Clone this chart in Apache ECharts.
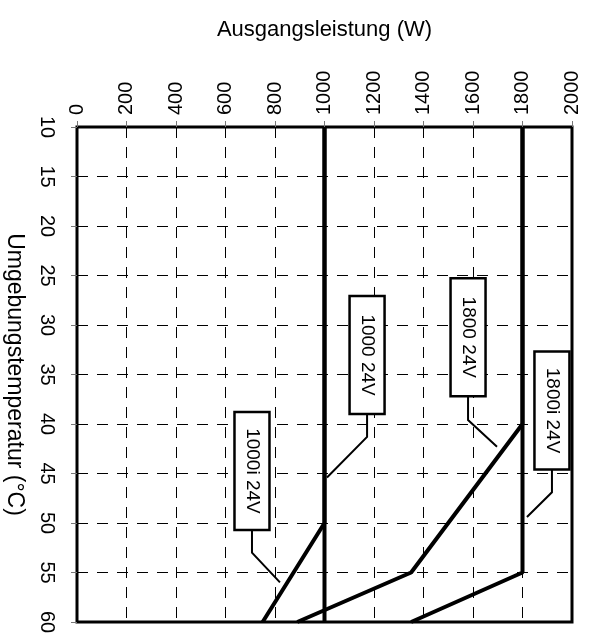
<!DOCTYPE html>
<html>
<head>
<meta charset="utf-8">
<script src="https://cdn.jsdelivr.net/npm/echarts@6/dist/echarts.min.js"></script>
<style>
  html, body { margin: 0; padding: 0; background: #fff; }
  #chart { width: 590px; height: 633px; }
</style>
</head>
<body>
<div id="chart"></div>
<script>
// Derating curves: output power (W) against ambient temperature (°C)
const powerTicks = [0, 200, 400, 600, 800, 1000, 1200, 1400, 1600, 1800, 2000];
const tempTicks = [10, 15, 20, 25, 30, 35, 40, 45, 50, 55, 60];

const temp1000 = [10, 60];
const power1000 = [1000, 1000];
const temp1000i = [10, 50, 60];
const power1000i = [1000, 1000, 750];
const temp1800 = [10, 40, 55, 60];
const power1800 = [1800, 1800, 1350, 890];
const temp1800i = [10, 55, 60];
const power1800i = [1800, 1800, 1350];

// Callout labels: name, point on the curve, leader bend, foot of the box
const calloutNames = ['1000 24V', '1800 24V', '1800i 24V', '1000i 24V'];
const calloutTarget = [[1010, 45.4], [1697, 42.3], [1818, 49.4], [820, 56.0]];
const calloutBend = [[1172, 41.3], [1580, 39.6], [1919, 46.9], [707, 53.0]];
const calloutFoot = [[1172, 39.0], [1580, 37.2], [1919, 44.6], [707, 50.7]];

const FONT = '"Liberation Sans", Arial, Helvetica, sans-serif';

function pairs(powers, temps) {
  return powers.map((p, i) => [p, temps[i]]);
}

function curve(name, powers, temps) {
  return {
    name: name,
    type: 'line',
    data: pairs(powers, temps),
    symbol: 'none',
    lineStyle: { color: '#000', width: 4 },
    z: 3,
    animation: false
  };
}

const calloutData = calloutNames.map((n, i) => ({
  name: n,
  value: [calloutTarget[i][0], calloutTarget[i][1],
          calloutBend[i][0], calloutBend[i][1],
          calloutFoot[i][0], calloutFoot[i][1]]
}));

const chart = echarts.init(document.getElementById('chart'), null, { renderer: 'canvas' });

chart.setOption({
  animation: false,
  backgroundColor: '#fff',
  grid: {
    left: 77, right: 18, top: 127, bottom: 11,
    outerBoundsMode: 'none',
    containLabel: false,
    show: true, borderColor: '#000', borderWidth: 3,
    backgroundColor: 'transparent'
  },
  xAxis: {
    type: 'value',
    position: 'top',
    min: powerTicks[0],
    max: powerTicks[powerTicks.length - 1],
    interval: 200,
    name: 'Ausgangsleistung (W)',
    nameLocation: 'middle',
    nameGap: 86,
    nameTextStyle: { fontFamily: FONT, fontSize: 22, color: '#000' },
    axisLine: { show: false },
    axisTick: { show: true, length: 6, lineStyle: { color: '#777', width: 1 } },
    axisLabel: {
      rotate: -90, margin: 12,
      fontFamily: FONT, fontSize: 20, color: '#000',
      formatter: v => String(v)
    },
    splitLine: { show: true, lineStyle: { color: '#000', width: 1, type: [11, 9] } }
  },
  yAxis: {
    type: 'value',
    inverse: true,
    min: tempTicks[0],
    max: tempTicks[tempTicks.length - 1],
    interval: 5,
    name: 'Umgebungstemperatur (°C)',
    nameLocation: 'middle',
    nameRotate: -90,
    nameGap: 51,
    nameTextStyle: { fontFamily: FONT, fontSize: 23, color: '#000' },
    axisLine: { show: false },
    axisTick: { show: true, length: 6, lineStyle: { color: '#777', width: 1 } },
    axisLabel: {
      rotate: -90, margin: 20,
      fontFamily: FONT, fontSize: 20, color: '#000'
    },
    splitLine: { show: true, lineStyle: { color: '#000', width: 1, type: [11, 9] } }
  },
  series: [
    curve('1000 24V', power1000, temp1000),
    curve('1000i 24V', power1000i, temp1000i),
    curve('1800 24V', power1800, temp1800),
    curve('1800i 24V', power1800i, temp1800i),
    {
      type: 'custom',
      name: 'callouts',
      z: 5,
      clip: false,
      data: calloutData,
      renderItem: function (params, api) {
        const target = api.coord([api.value(0), api.value(1)]);
        const bend = api.coord([api.value(2), api.value(3)]);
        const foot = api.coord([api.value(4), api.value(5)]);
        const w = 35, h = 118;
        const label = calloutNames[params.dataIndex];
        return {
          type: 'group',
          children: [
            {
              type: 'polyline',
              shape: { points: [foot, bend, target] },
              style: { stroke: '#000', lineWidth: 2, fill: null }
            },
            {
              type: 'rect',
              shape: { x: foot[0] - w / 2, y: foot[1] - h, width: w, height: h },
              style: { fill: '#fff', stroke: '#000', lineWidth: 2.5 }
            },
            {
              type: 'text',
              x: foot[0],
              y: foot[1] - h / 2,
              rotation: -Math.PI / 2,
              style: {
                text: label,
                fontFamily: FONT,
                fontSize: 19,
                fill: '#000',
                align: 'center',
                verticalAlign: 'middle'
              }
            }
          ]
        };
      }
    }
  ]
});
</script>
</body>
</html>
